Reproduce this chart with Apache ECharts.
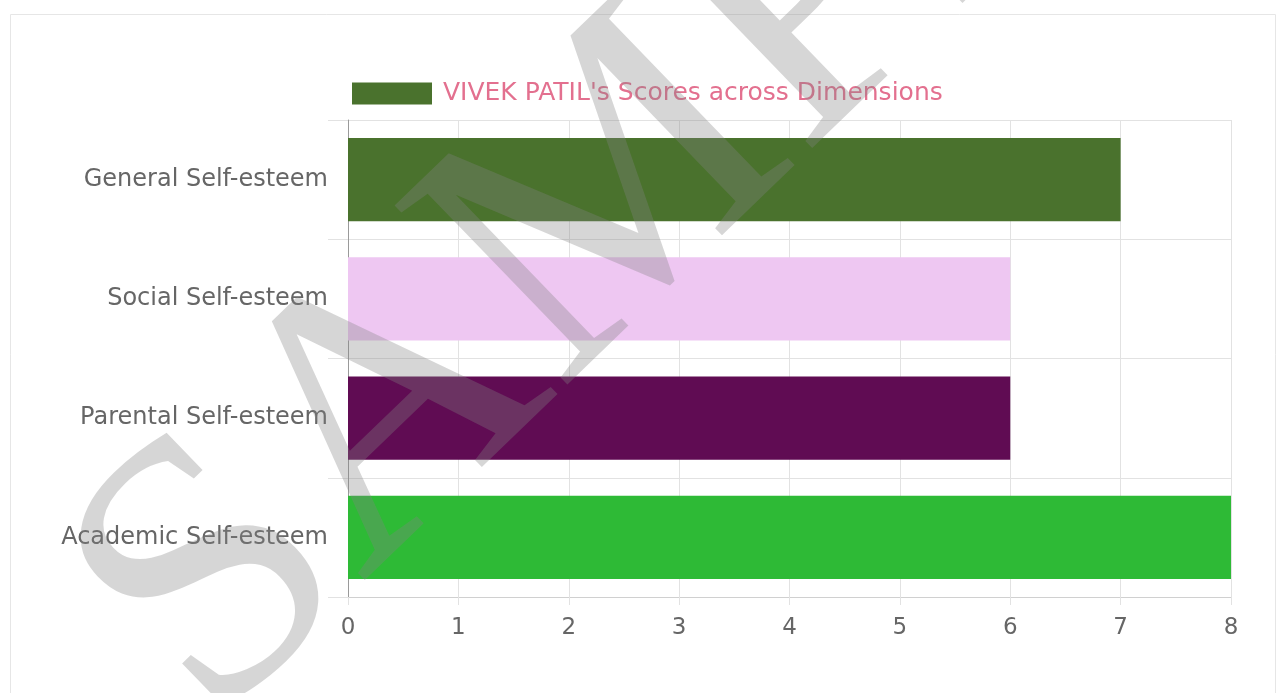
<!DOCTYPE html>
<html>
<head>
<meta charset="utf-8">
<script src="https://cdn.jsdelivr.net/npm/echarts@6/dist/echarts.min.js"></script>
<style>
html,body{margin:0;padding:0;background:#fff;}
#chart{width:1283px;height:693px;}
</style>
</head>
<body>
<div id="chart"></div>
<script>
const categories = ['General Self-esteem', 'Social Self-esteem', 'Parental Self-esteem', 'Academic Self-esteem'];
const scores = [7, 6, 6, 8];
const barColors = ['#4a722d', '#eec7f2', '#600c53', '#2eba36'];
const seriesName = "VIVEK PATIL's Scores across Dimensions";
const xTicks = [0, 1, 2, 3, 4, 5, 6, 7, 8];

const chart = echarts.init(document.getElementById('chart'), null, {renderer: 'canvas'});
const font = '"DejaVu Sans", Verdana, sans-serif';
chart.setOption({
  animation: false,
  backgroundColor: '#ffffff',
  grid: {left: 348, right: 52, top: 120, bottom: 96, containLabel: false},
  legend: {
    left: 347, top: 76,
    itemWidth: 80, itemHeight: 22, itemGap: 10,
    icon: 'rect',
    data: [{name: seriesName, itemStyle: {color: barColors[0]}}],
    textStyle: {color: '#e3708f', fontSize: 25, fontFamily: font, padding: [0, 0, 0, 6]}
  },
  xAxis: {
    type: 'value',
    min: xTicks[0], max: xTicks[xTicks.length - 1], interval: 1,
    axisLine: {show: true, lineStyle: {color: '#d0d0d0', width: 1}},
    axisTick: {show: true, length: 8, lineStyle: {color: '#e2e2e2'}},
    splitLine: {show: true, lineStyle: {color: '#e2e2e2', width: 1}},
    axisLabel: {color: '#666', fontSize: 23, fontFamily: font, margin: 20}
  },
  yAxis: {
    type: 'category',
    data: categories,
    inverse: true,
    axisLine: {show: true, lineStyle: {color: '#9a9a9a', width: 1}},
    axisTick: {show: true, length: 20, lineStyle: {color: '#e2e2e2'}},
    splitLine: {show: true, lineStyle: {color: '#e2e2e2', width: 1}},
    axisLabel: {color: '#666', fontSize: 24, fontFamily: font, margin: 20}
  },
  series: [{
    name: seriesName,
    type: 'bar',
    barCategoryGap: '30%',
    data: scores.map((v, i) => ({value: v, itemStyle: {color: barColors[i]}}))
  }],
  graphic: [
    {type: 'rect', left: 8, top: 12, shape: {width: 1265, height: 700}, style: {fill: 'none', stroke: '#e6e6e6', lineWidth: 1}, z: 0, silent: true},
    {type: 'text', x: 680, y: 137, rotation: 44 * Math.PI / 180, z: 100, silent: true,
     style: {text: 'SAMPLE', font: '380px "Liberation Serif", serif', align: 'center', verticalAlign: 'middle', textAlign: 'center', textVerticalAlign: 'middle', fill: 'rgba(130,130,130,0.33)'}}
  ]
});
</script>
</body>
</html>
